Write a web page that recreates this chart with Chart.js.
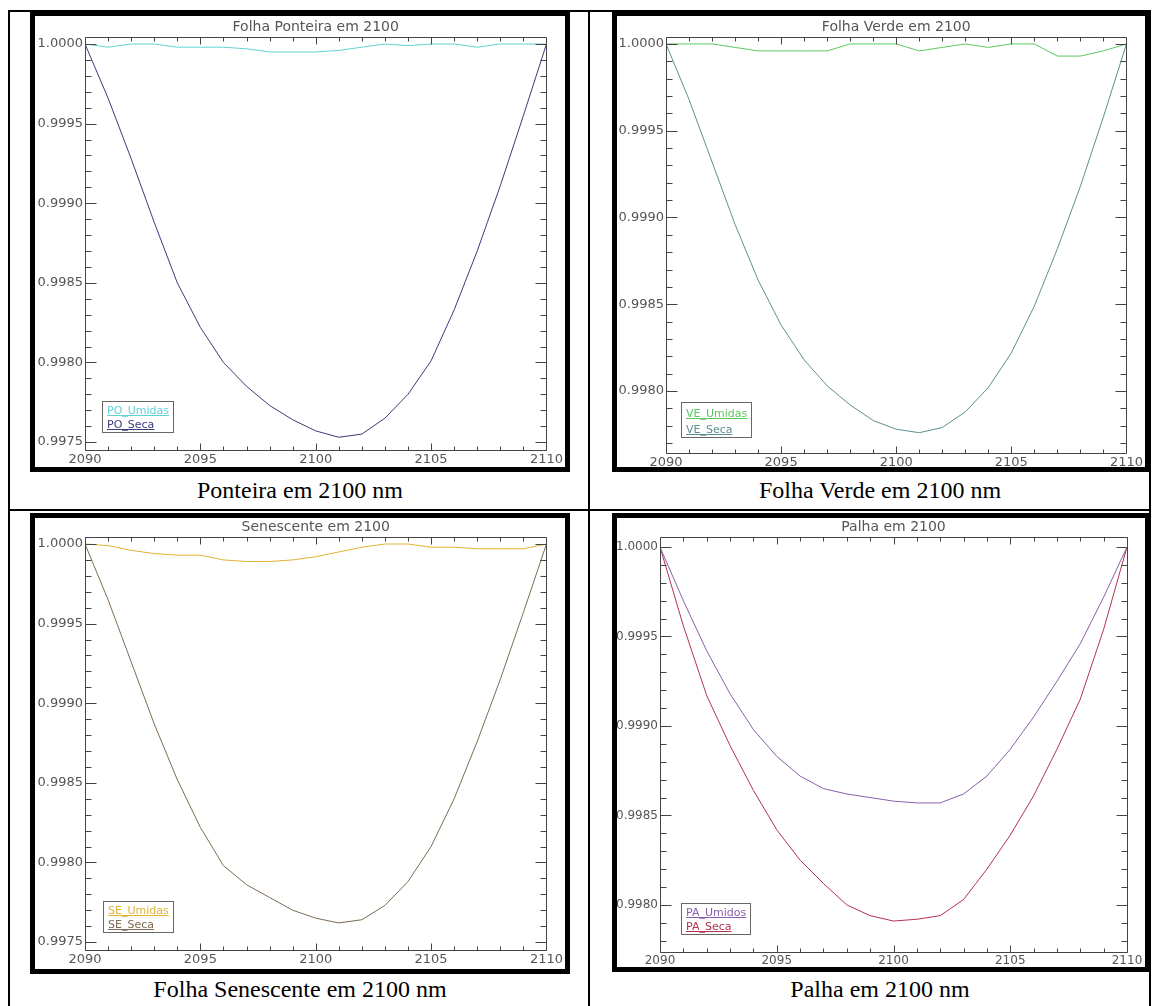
<!DOCTYPE html>
<html>
<head>
<meta charset="utf-8">
<script src="https://cdn.jsdelivr.net/npm/chart.js@4.4.1/dist/chart.umd.min.js"></script>
<style>
  body { margin: 0; width: 1157px; height: 1006px; overflow: hidden; position: relative; background: #fff; }
  .rule { position: absolute; background: #000; }
  .frame { position: absolute; box-sizing: border-box; border: 5px solid #000; background: #fff; }
  .frame canvas { display: block; }
  .cap { position: absolute; width: 580px; text-align: center; font-family: "Liberation Serif", "Times New Roman", serif; font-size: 24px; line-height: 28px; color: #000; }
</style>
</head>
<body>
<!-- table lines -->
<div class="rule" style="left:8px;top:10px;width:2px;height:996px"></div>
<div class="rule" style="left:1149px;top:10px;width:2px;height:996px"></div>
<div class="rule" style="left:8px;top:10px;width:1143px;height:2px"></div>
<div class="rule" style="left:588px;top:10px;width:2px;height:996px"></div>
<div class="rule" style="left:8px;top:509px;width:1143px;height:2px"></div>

<div class="frame" style="left:30px;top:11px;width:540px;height:461px"><canvas id="c1" width="530" height="451"></canvas></div>
<div class="frame" style="left:612px;top:11px;width:538px;height:461px"><canvas id="c2" width="528" height="451"></canvas></div>
<div class="frame" style="left:30px;top:513px;width:540px;height:461px"><canvas id="c3" width="530" height="451"></canvas></div>
<div class="frame" style="left:612px;top:513px;width:538px;height:459px"><canvas id="c4" width="528" height="449"></canvas></div>

<div class="cap" style="left:10px;top:476px">Ponteira em 2100 nm</div>
<div class="cap" style="left:590px;top:476px">Folha Verde em 2100 nm</div>
<div class="cap" style="left:10px;top:975px">Folha Senescente em 2100 nm</div>
<div class="cap" style="left:590px;top:975px">Palha em 2100 nm</div>

<script>
const wavelengths = [2090, 2091, 2092, 2093, 2094, 2095, 2096, 2097, 2098, 2099, 2100,
                     2101, 2102, 2103, 2104, 2105, 2106, 2107, 2108, 2109, 2110];
const xTicks = [2090, 2095, 2100, 2105, 2110];
const yTicksDeep = [0.9975, 0.9980, 0.9985, 0.9990, 0.9995, 1.0000];
const yTicksShallow = [0.9980, 0.9985, 0.9990, 0.9995, 1.0000];

// Ponteira
const poUmidas = [1.0, 0.99998, 1.0, 1.0, 0.99998, 0.99998, 0.99998, 0.99997, 0.99995, 0.99995, 0.99995,
                  0.99996, 0.99998, 1.0, 0.99999, 1.0, 1.0, 0.99998, 1.0, 1.0, 1.0];
const poSeca = [1.0, 0.99966, 0.99928, 0.99888, 0.99850, 0.99822, 0.99800, 0.99785, 0.99773, 0.99764, 0.99757,
                0.99753, 0.99755, 0.99765, 0.99780, 0.99801, 0.99833, 0.99870, 0.99911, 0.99955, 1.0];
// Folha verde
const veUmidas = [1.0, 1.0, 1.0, 0.99998, 0.99996, 0.99996, 0.99996, 0.99996, 1.0, 1.0, 1.0,
                  0.99996, 0.99998, 1.0, 0.99998, 1.0, 1.0, 0.99993, 0.99993, 0.99996, 1.0];
const veSeca = [1.0, 0.99968, 0.99932, 0.99896, 0.99864, 0.99838, 0.99818, 0.99803, 0.99792, 0.99783, 0.99778,
                0.99776, 0.99779, 0.99788, 0.99802, 0.99822, 0.99849, 0.99882, 0.99918, 0.99958, 1.0];
// Senescente
const seUmidas = [1.0, 0.99999, 0.99996, 0.99994, 0.99993, 0.99993, 0.99990, 0.99989, 0.99989, 0.99990, 0.99992,
                  0.99995, 0.99998, 1.0, 1.0, 0.99998, 0.99998, 0.99997, 0.99997, 0.99997, 1.0];
const seSeca = [1.0, 0.99965, 0.99926, 0.99887, 0.99852, 0.99822, 0.99798, 0.99786, 0.99778, 0.99770, 0.99765,
                0.99762, 0.99764, 0.99773, 0.99788, 0.99810, 0.99840, 0.99876, 0.99915, 0.99957, 1.0];
// Palha
const paUmidos = [1.0, 0.99970, 0.99942, 0.99918, 0.99898, 0.99883, 0.99872, 0.99865, 0.99862, 0.99860, 0.99858,
                  0.99857, 0.99857, 0.99862, 0.99872, 0.99887, 0.99905, 0.99925, 0.99946, 0.99972, 1.0];
const paSeca = [1.0, 0.99956, 0.99917, 0.99889, 0.99864, 0.99842, 0.99825, 0.99812, 0.99800, 0.99794, 0.99791,
                0.99792, 0.99794, 0.99803, 0.99820, 0.99839, 0.99861, 0.99887, 0.99915, 0.99954, 1.0];

const axisColor = '#444';
const textColor = '#555';

const panels = [
  { id: 'c1', title: 'Folha Ponteira em 2100', names: ['PO_Umidas', 'PO_Seca'], series: [poUmidas, poSeca],
    colors: ['#62d2d6', '#3b3b7a'], yMin: 0.99745, yMax: 1.000044, yTicks: yTicksDeep, fs: 13,
    pad: { l: 50, t: 21, r: 18, b: 17 }, leg: { dx: 17, dy: 18, gap: 14 } },
  { id: 'c2', title: 'Folha Verde em 2100', names: ['VE_Umidas', 'VE_Seca'], series: [veUmidas, veSeca],
    colors: ['#5cc85c', '#5e8f8f'], yMin: 0.997643, yMax: 1.00004, yTicks: yTicksShallow, fs: 13,
    pad: { l: 49, t: 21, r: 18, b: 14 }, leg: { dx: 15, dy: 16, gap: 16 } },
  { id: 'c3', title: 'Senescente em 2100', names: ['SE_Umidas', 'SE_Seca'], series: [seUmidas, seSeca],
    colors: ['#e2b232', '#7d6c52'], yMin: 0.99745, yMax: 1.000044, yTicks: yTicksDeep, fs: 13,
    pad: { l: 50, t: 19, r: 18, b: 19 }, leg: { dx: 18, dy: 18, gap: 14 } },
  { id: 'c4', title: 'Palha em 2100', names: ['PA_Umidos', 'PA_Seca'], series: [paUmidos, paSeca],
    colors: ['#8a5eaa', '#b2324f'], yMin: 0.997737, yMax: 1.000056, yTicks: yTicksShallow, fs: 12,
    pad: { l: 43, t: 19, r: 18, b: 15 }, leg: { dx: 21, dy: 18, gap: 14 } }
];

// box + inward ticks on all four sides, title and legend box
const idlFrame = {
  id: 'idlFrame',
  afterDatasetsDraw(chart, args, opts) {
    const { ctx, chartArea: a, scales: { x, y } } = chart;
    const L = Math.round(a.left) + 0.5, R = Math.round(a.right) + 0.5;
    const T = Math.round(a.top) + 0.5, B = Math.round(a.bottom) + 0.5;
    ctx.save();
    ctx.strokeStyle = axisColor;
    ctx.lineWidth = 1;
    ctx.beginPath();
    ctx.rect(L, T, R - L, B - T);
    // x ticks, every nm
    for (let v = x.min; v <= x.max + 1e-9; v += 1) {
      const px = Math.round(x.getPixelForValue(v)) + 0.5;
      const len = xTicks.some(t => Math.abs(t - v) < 1e-9) ? 7 : 4;
      ctx.moveTo(px, B); ctx.lineTo(px, B - len);
      ctx.moveTo(px, T); ctx.lineTo(px, T + len);
    }
    // y ticks, every 0.0001
    const k0 = Math.ceil(y.min * 10000 - 1e-6), k1 = Math.floor(y.max * 10000 + 1e-6);
    for (let k = k0; k <= k1; k++) {
      const v = k / 10000;
      const py = Math.round(y.getPixelForValue(v)) + 0.5;
      const len = opts.yTicks.some(t => Math.abs(t - v) < 1e-9) ? 11 : 6;
      ctx.moveTo(L, py); ctx.lineTo(L + len, py);
      ctx.moveTo(R, py); ctx.lineTo(R - len, py);
    }
    ctx.stroke();

    // title
    ctx.fillStyle = textColor;
    ctx.font = '14px "DejaVu Sans"';
    ctx.textAlign = 'center';
    ctx.textBaseline = 'middle';
    ctx.fillText(opts.title, (a.left + a.right) / 2, a.top - 10);

    // legend
    const ds = chart.data.datasets;
    const gap = opts.leg.gap;
    ctx.font = '11px "DejaVu Sans"';
    ctx.textAlign = 'left';
    ctx.textBaseline = 'alphabetic';
    const w = Math.max(...ds.map(d => ctx.measureText(d.label).width)) + 9;
    const h = ds.length * gap + 3;
    const bx = Math.round(a.left + opts.leg.dx) + 0.5;
    const by = Math.round(a.bottom - opts.leg.dy - h) + 0.5;
    ctx.strokeStyle = '#666';
    ctx.strokeRect(bx, by, Math.round(w), h);
    ds.forEach((d, i) => {
      const tx = bx + 4.5, ty = by + gap - 2 + i * gap;
      const tw = ctx.measureText(d.label).width;
      ctx.fillStyle = d.borderColor;
      ctx.fillText(d.label, tx, ty);
      ctx.strokeStyle = d.borderColor;
      ctx.beginPath();
      ctx.moveTo(tx, Math.round(ty) + 1.5); ctx.lineTo(tx + tw, Math.round(ty) + 1.5);
      ctx.stroke();
    });
    ctx.restore();
  }
};

panels.forEach(p => {
  new Chart(document.getElementById(p.id), {
    type: 'line',
    data: {
      datasets: p.series.map((s, i) => ({
        label: p.names[i],
        data: wavelengths.map((w, j) => ({ x: w, y: s[j] })),
        borderColor: p.colors[i],
        borderWidth: 1,
        pointRadius: 0,
        tension: 0,
        fill: false
      }))
    },
    options: {
      responsive: false,
      animation: false,
      devicePixelRatio: 1,
      layout: { padding: { top: p.pad.t, right: p.pad.r, left: 0, bottom: 0 } },
      plugins: {
        legend: { display: false },
        title: { display: false },
        tooltip: { enabled: false },
        idlFrame: { title: p.title, yTicks: p.yTicks, leg: p.leg }
      },
      scales: {
        x: {
          type: 'linear',
          min: 2090,
          max: 2110,
          afterBuildTicks: s => { s.ticks = xTicks.map(v => ({ value: v })); },
          afterFit: s => { s.height = p.pad.b; },
          grid: { display: false, drawTicks: false },
          border: { display: false },
          ticks: { color: textColor, font: { family: 'DejaVu Sans', size: p.fs }, padding: 2, maxRotation: 0,
                   autoSkip: false, callback: v => String(v) }
        },
        y: {
          type: 'linear',
          min: p.yMin,
          max: p.yMax,
          afterBuildTicks: s => { s.ticks = p.yTicks.map(v => ({ value: v })); },
          afterFit: s => { s.width = p.pad.l; },
          grid: { display: false, drawTicks: false },
          border: { display: false },
          ticks: { color: textColor, font: { family: 'DejaVu Sans', size: p.fs }, padding: 2,
                   callback: v => v.toFixed(4) }
        }
      }
    },
    plugins: [idlFrame]
  });
});
</script>
</body>
</html>
